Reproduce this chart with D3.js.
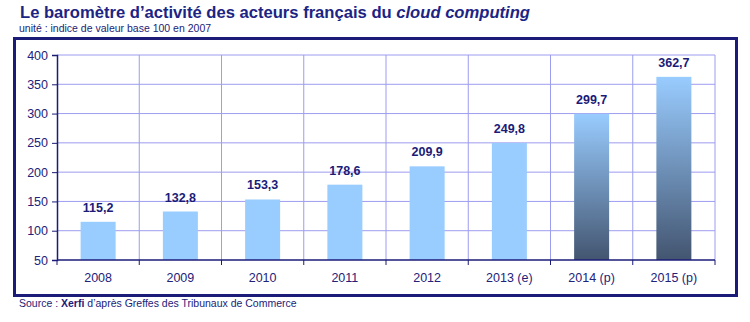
<!DOCTYPE html>
<html><head><meta charset="utf-8">
<script src="https://cdn.jsdelivr.net/npm/d3@7"></script>
<style>body{margin:0;background:#fff;} svg{display:block;font-family:"Liberation Sans",Arial,sans-serif;}</style>
</head><body>
<svg id="c" width="750" height="322"></svg>
<script>
const categories = ["2008","2009","2010","2011","2012","2013 (e)","2014 (p)","2015 (p)"];
const values = [115.2,132.8,153.3,178.6,209.9,249.8,299.7,362.7];
const labels = ["115,2","132,8","153,3","178,6","209,9","249,8","299,7","362,7"];
const projected = [false,false,false,false,false,false,true,true];
const yTicks = [50,100,150,200,250,300,350,400];

const svg = d3.select("#c");
const navy = "#1b1b78";
const m = {left:57, right:715, top:55, bottom:260};

const defs = svg.append("defs");
const g = defs.append("linearGradient").attr("id","grad").attr("x1",0).attr("y1",0).attr("x2",0).attr("y2",1);
g.append("stop").attr("offset","0%").attr("stop-color","#99ccff");
g.append("stop").attr("offset","100%").attr("stop-color","#435570");

// title
const t = svg.append("text").attr("x",20).attr("y",18).attr("fill","#1c2484").attr("font-size",16.6).attr("font-weight","bold");
t.append("tspan").text("Le baromètre d’activité des acteurs français du ");
t.append("tspan").attr("font-style","italic").text("cloud computing");
svg.append("text").attr("x",19).attr("y",32).attr("fill",navy).attr("font-size",10.5).text("unité : indice de valeur base 100 en 2007");

// frame
svg.append("rect").attr("x",14.5).attr("y",38.5).attr("width",722).attr("height",257).attr("fill","#fff").attr("stroke",navy).attr("stroke-width",3);

const x = d3.scaleBand().domain(categories).range([m.left,m.right]).paddingInner(0).paddingOuter(0);
const y = d3.scaleLinear().domain([50,400]).range([m.bottom,m.top]);

// grid
const grid = svg.append("g");
grid.selectAll("line.h").data(yTicks.slice(1)).join("line")
  .attr("x1",m.left).attr("x2",m.right).attr("y1",d=>y(d)).attr("y2",d=>y(d))
  .attr("stroke","#9c9cf0").attr("stroke-width",1);
const bounds = categories.map(c=>x(c)).concat([m.right]);
grid.selectAll("line.v").data(bounds.slice(1)).join("line")
  .attr("x1",d=>d).attr("x2",d=>d).attr("y1",m.top).attr("y2",m.bottom)
  .attr("stroke","#9c9cf0").attr("stroke-width",1);

// bars
const bw = 35;
svg.selectAll("rect.bar").data(values).join("rect")
  .attr("x",(d,i)=>x(categories[i])+x.bandwidth()/2-bw/2)
  .attr("width",bw)
  .attr("y",d=>y(d)).attr("height",d=>m.bottom-y(d))
  .attr("fill",(d,i)=>projected[i]?"url(#grad)":"#99ccff");

// value labels
svg.selectAll("text.val").data(values).join("text")
  .attr("x",(d,i)=>x(categories[i])+x.bandwidth()/2)
  .attr("y",d=>y(d)-10)
  .attr("text-anchor","middle").attr("fill",navy).attr("font-size",12.5).attr("font-weight","bold")
  .text((d,i)=>labels[i]);

// axes
const yAxis = d3.axisLeft(y).tickValues(yTicks).tickSize(5).tickPadding(4);
const ya = svg.append("g").attr("transform",`translate(${m.left},0)`).call(yAxis);
ya.select(".domain").attr("stroke","#1b1b78").attr("stroke-width",1.5);
ya.selectAll(".tick line").attr("stroke",navy);
ya.selectAll(".tick text").attr("fill","#22227a").attr("font-size",12.5).attr("font-family","Liberation Sans, Arial, sans-serif");

const xa = svg.append("g").attr("transform",`translate(0,${m.bottom})`);
xa.append("line").attr("x1",m.left).attr("x2",m.right).attr("y1",0).attr("y2",0).attr("stroke",navy).attr("stroke-width",1.5);
xa.selectAll("line.t").data(bounds).join("line").attr("x1",d=>d).attr("x2",d=>d).attr("y1",0).attr("y2",5).attr("stroke",navy);
xa.selectAll("text").data(categories).join("text")
  .attr("x",d=>x(d)+x.bandwidth()/2).attr("y",22)
  .attr("text-anchor","middle").attr("fill","#22227a").attr("font-size",12.5).text(d=>d);

// source
const s = svg.append("text").attr("x",19).attr("y",307).attr("fill",navy).attr("font-size",10.5);
s.append("tspan").text("Source : ");
s.append("tspan").attr("font-weight","bold").text("Xerfi");
s.append("tspan").text(" d’après Greffes des Tribunaux de Commerce");
</script>
</body></html>
